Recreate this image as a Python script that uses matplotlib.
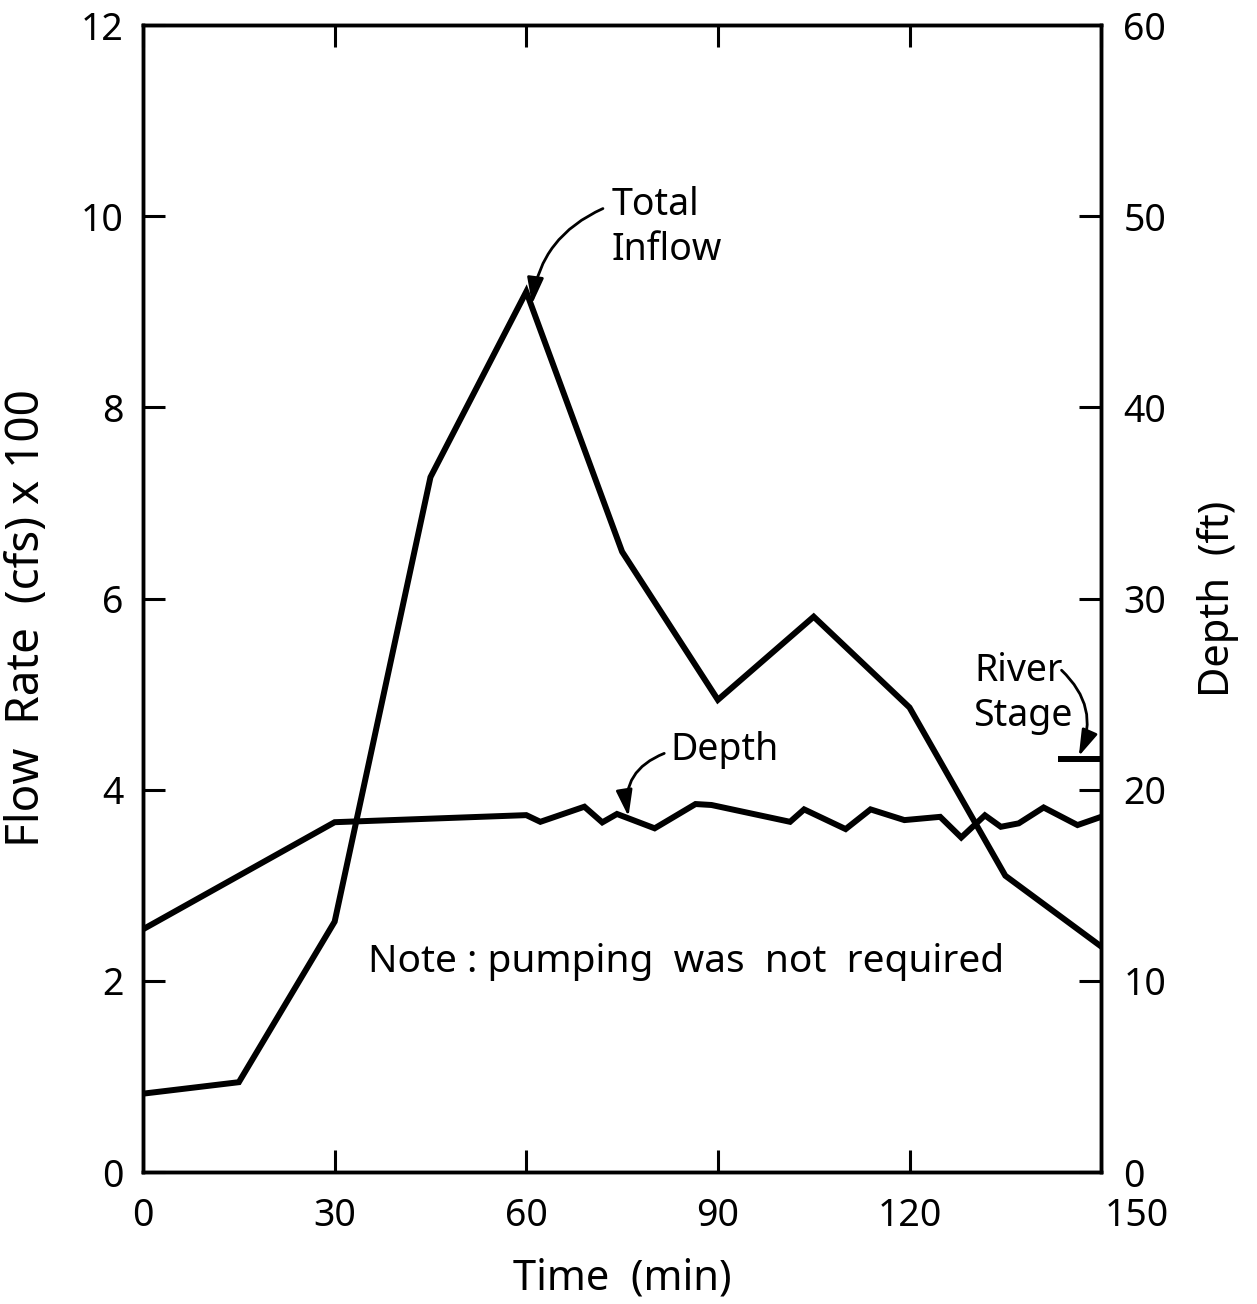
import numpy as np
import matplotlib
matplotlib.use('Agg')
import matplotlib.pyplot as plt
from matplotlib.patches import FancyArrowPatch
from matplotlib.transforms import ScaledTranslation

plt.rcParams['font.family'] = ['Noto Sans', 'DejaVu Sans']

# total inflow (cfs x 100) vs time (min)
inflow_t = [0, 15, 30, 45, 60, 75, 90, 105, 120, 135, 150]
inflow_q = [0.82, 0.94, 2.62, 7.27, 9.21, 6.49, 4.94, 5.81, 4.86, 3.10, 2.36]

# depth (ft) vs time (min)
depth_t = [0, 30, 60, 62.2, 69.1, 71.9, 74.2, 80.1, 86.5, 89.0, 101.3, 103.5,
           110.0, 113.9, 119.2, 124.8, 128.1, 131.8, 134.3, 137.1, 141.0,
           146.3, 150]
depth_h = [12.7, 18.3, 18.67, 18.32, 19.11, 18.29, 18.73, 17.98, 19.25, 19.2,
           18.32, 18.97, 17.94, 18.97, 18.41, 18.58, 17.5, 18.66, 18.06,
           18.24, 19.07, 18.15, 18.58]

# river stage marker
stage_t = [143.3, 150]
stage_h = [21.6, 21.6]

x_ticks = [0, 30, 60, 90, 120, 150]
left_ticks = [0, 2, 4, 6, 8, 10, 12]
right_ticks = [0, 10, 20, 30, 40, 50, 60]

fig = plt.figure(figsize=(12.57, 13.04), dpi=100)
ax = fig.add_axes([0.1138, 0.1012, 0.7622, 0.8796])
ax2 = ax.twinx()

LW = 4.3
FS = 27

ax.plot(inflow_t, inflow_q, color='black', lw=LW, solid_joinstyle='miter')
ax2.plot(depth_t, depth_h, color='black', lw=LW, solid_joinstyle='miter')
ax2.plot(stage_t, stage_h, color='black', lw=LW, solid_capstyle='butt')

ax.set_xlim(0, 150)
ax.set_ylim(0, 12)
ax2.set_ylim(0, 60)

ax.set_xticks(x_ticks)
ax.set_yticks(left_ticks)
ax2.set_yticks(right_ticks)
ax.set_xticklabels([str(v) for v in x_ticks])

for a in (ax, ax2):
    for s in a.spines.values():
        s.set_linewidth(2.5)
ax.tick_params(axis='x', direction='in', length=16, width=2.2, top=True,
               labelsize=FS, pad=18)
ax.tick_params(axis='y', direction='in', length=16, width=2.2,
               labelsize=FS, pad=14)
ax2.tick_params(axis='y', direction='in', length=16, width=2.2,
                labelsize=FS, pad=16)

# push "150" out past the corner
lbls = ax.get_xticklabels()
lbls[-1].set_transform(lbls[-1].get_transform()
                       + ScaledTranslation(0.36, 0, fig.dpi_scale_trans))

ax.set_xlabel('Time  (min)', fontsize=30, labelpad=16)
ax.set_ylabel('Flow  Rate  (cfs) x 100', fontsize=33)
ax.yaxis.set_label_coords(-0.097, 0.483)
ax2.set_ylabel('Depth  (ft)', fontsize=30, labelpad=22)

# labels and curved arrows
ax.text(73.4, 10.12, 'Total', fontsize=FS, va='center', ha='left')
ax.text(73.4, 9.65, 'Inflow', fontsize=FS, va='center', ha='left')
ax.text(82.5, 4.42, 'Depth', fontsize=FS, va='center', ha='left')
ax.text(130.2, 5.24, 'River', fontsize=FS, va='center', ha='left')
ax.text(130.0, 4.77, 'Stage', fontsize=FS, va='center', ha='left')
ax.text(35.2, 2.2, 'Note : pumping  was  not  required', fontsize=28,
        va='center', ha='left')

arrow_kw = dict(arrowstyle='-|>,head_length=0.8,head_width=0.25',
                mutation_scale=20, lw=2, color='black',
                shrinkA=0, shrinkB=0)
ax.add_patch(FancyArrowPatch((72.0, 10.08), (60.9, 9.08),
                             connectionstyle='arc3,rad=0.28', **arrow_kw))
ax.add_patch(FancyArrowPatch((81.6, 4.38), (76.0, 3.72),
                             connectionstyle='arc3,rad=0.4', **arrow_kw))
ax.add_patch(FancyArrowPatch((143.8, 5.25), (146.5, 4.35),
                             connectionstyle='arc3,rad=-0.35', **arrow_kw))

fig.savefig('out.png', dpi=100)
